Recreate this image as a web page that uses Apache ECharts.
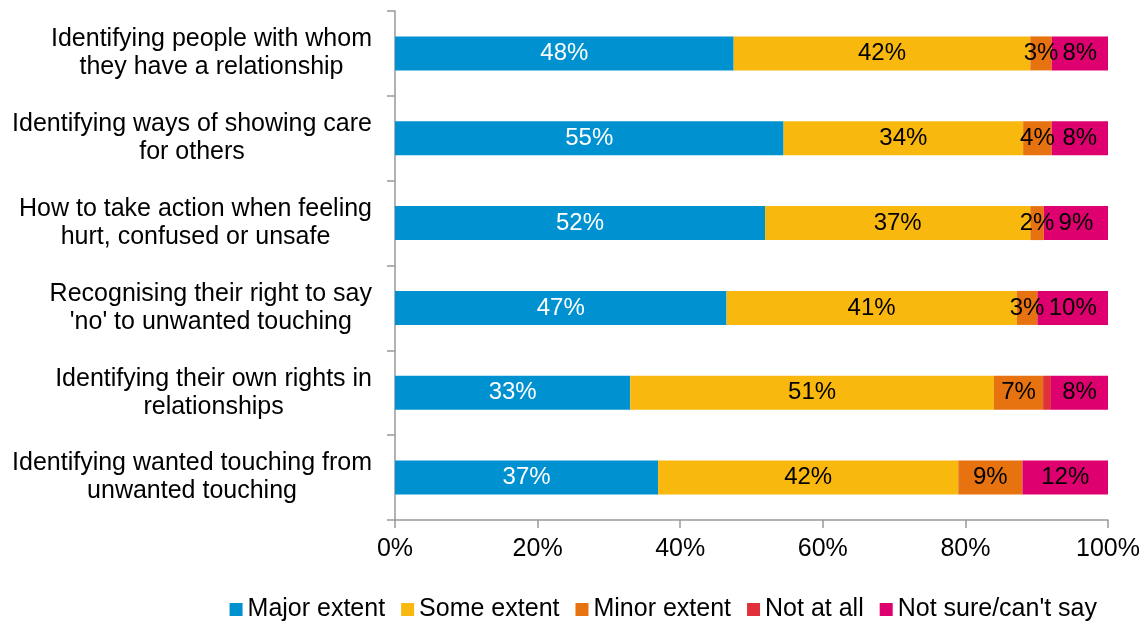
<!DOCTYPE html>
<html>
<head>
<meta charset="utf-8">
<script src="https://cdn.jsdelivr.net/npm/echarts@6/dist/echarts.min.js"></script>
<style>
	html, body { margin: 0; padding: 0; background: #fff; }
	#main { width: 1146px; height: 623px; }
</style>
</head>
<body>
<div id="main"></div>
<script>
const categories = [
	'Identifying people with whom\nthey have a relationship',
	'Identifying ways of showing care\nfor others',
	'How to take action when feeling\nhurt, confused or unsafe',
	"Recognising their right to say\n'no' to unwanted touching",
	'Identifying their own rights in\nrelationships',
	'Identifying wanted touching from\nunwanted touching'
]
const seriesNames = ['Major extent', 'Some extent', 'Minor extent', 'Not at all', "Not sure/can't say"]
const colors = ['#0092d0', '#f9b80e', '#e77310', '#e0303a', '#dd006e']
const labelColors = ['#fff', '#000', '#000', '#000', '#000']

const major = [47.5, 54.5, 51.9, 46.5, 33.0, 36.9]
const some = [41.6, 33.6, 37.2, 40.7, 51.0, 42.1]
const minor = [3.0, 4.0, 1.9, 2.9, 6.9, 9.0]
const notAtAll = [0, 0, 0, 0, 1.1, 0]
const notSure = [7.9, 7.9, 9.0, 9.9, 8.0, 12.0]
const values = [major, some, minor, notAtAll, notSure]

const xTicks = [0, 20, 40, 60, 80, 100]

const font = 'Liberation Sans, Arial, sans-serif'
const labelSize = 25

// centre the lines of each label inside a right-aligned block
const ctx = document.createElement('canvas').getContext('2d')
ctx.font = labelSize + 'px ' + font
const yData = categories.map(c => {
	const w = Math.max(...c.split('\n').map(l => ctx.measureText(l).width))
	return { value: c, textStyle: { align: 'center', padding: [0, w, 0, 0] } }
})

const series = values.map((data, i) => ({
	name: seriesNames[i],
	type: 'bar',
	stack: 'total',
	data,
	barWidth: 34,
	itemStyle: { color: colors[i] },
	label: {
		show: true,
		position: 'inside',
		color: labelColors[i],
		fontFamily: font,
		fontSize: 24,
		formatter: p => p.value >= 1.5 ? Math.round(p.value) + '%' : ''
	}
}))

echarts.init(document.getElementById('main')).setOption({
	animation: false,
	textStyle: { fontFamily: font },
	grid: { left: 395, right: 38, top: 11, bottom: 103, containLabel: false },
	legend: {
		bottom: -4,
		right: 44,
		itemWidth: 13,
		itemHeight: 13,
		itemGap: 16,
		icon: 'rect',
		textStyle: { fontSize: labelSize, color: '#000', fontFamily: font },
		data: seriesNames
	},
	xAxis: {
		type: 'value',
		min: 0,
		max: 100,
		interval: 20,
		splitLine: { show: false },
		axisLine: { show: true, lineStyle: { color: '#999', width: 1.5 } },
		axisTick: { show: true, length: 8, lineStyle: { color: '#999', width: 1.5 } },
		axisLabel: {
			color: '#000',
			fontSize: labelSize,
			margin: 17,
			fontFamily: font,
			formatter: v => xTicks.includes(v) ? v + '%' : ''
		}
	},
	yAxis: {
		type: 'category',
		inverse: true,
		data: yData,
		axisLine: { show: true, lineStyle: { color: '#999', width: 1.5 } },
		axisTick: { show: true, length: 8, lineStyle: { color: '#999', width: 1.5 } },
		axisLabel: {
			color: '#000',
			fontSize: labelSize,
			lineHeight: 28,
			margin: 23,
			fontFamily: font
		}
	},
	series
})
</script>
</body>
</html>
